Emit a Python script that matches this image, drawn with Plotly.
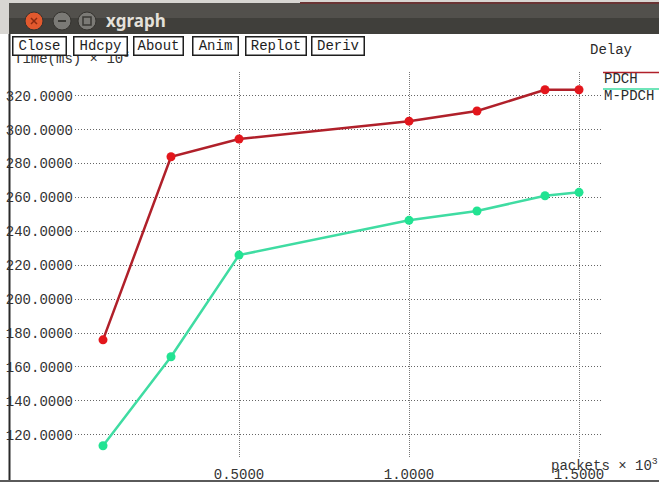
import plotly.graph_objects as go

# ---------------- data ----------------
packets = [0.1, 0.3, 0.5, 1.0, 1.2, 1.4, 1.5]          # x 10^3
pdch = [176.0, 284.0, 294.5, 305.0, 311.0, 323.5, 323.5]   # Time(ms) x 10^3
mpdch = [113.5, 166.0, 226.0, 246.5, 252.0, 261.0, 263.0]
series_names = ["PDCH", "M-PDCH"]
buttons = ["Close", "Hdcpy", "About", "Anim", "Replot", "Deriv"]
graph_title = "Delay"
window_title = "xgraph"
y_label = "Time(ms) × 10<sup>3</sup>"
x_label = "packets × 10<sup>3</sup>"

W, H = 659, 482
def px(x):
    return x / W
def py(y):
    return 1 - y / H

MONO = "Liberation Mono, DejaVu Sans Mono, monospace"
RED_LINE, RED_MK = "#b0202a", "#e3161c"
GRN_LINE, GRN_MK = "#3fdca2", "#22e392"

fig = go.Figure()
fig.add_trace(go.Scatter(x=packets, y=pdch, mode="lines+markers", name=series_names[0],
                         line=dict(color=RED_LINE, width=2.5),
                         marker=dict(color=RED_MK, size=9), cliponaxis=False))
fig.add_trace(go.Scatter(x=packets, y=mpdch, mode="lines+markers", name=series_names[1],
                         line=dict(color=GRN_LINE, width=2.5),
                         marker=dict(color=GRN_MK, size=9), cliponaxis=False))

shapes = []
# window title bar
shapes.append(dict(type="rect", xref="paper", yref="paper", x0=0, x1=1, y0=py(0), y1=py(34),
                   fillcolor="#d8d6d2", line=dict(width=0), layer="below"))
shapes.append(dict(type="rect", xref="paper", yref="paper", x0=px(9), x1=1, y0=py(3), y1=py(18),
                   fillcolor="#52504c", line=dict(width=0), layer="below"))
shapes.append(dict(type="rect", xref="paper", yref="paper", x0=px(9), x1=1, y0=py(18), y1=py(34),
                   fillcolor="#403f3b", line=dict(width=0), layer="below"))
shapes.append(dict(type="rect", xref="paper", yref="paper", x0=px(300), x1=1, y0=py(2), y1=py(4),
                   fillcolor="#6a3434", line=dict(width=0), layer="below"))
# window circle buttons
for cx, col in [(34, "#e2592e"), (62, "#7b7a76"), (87, "#7b7a76")]:
    shapes.append(dict(type="circle", xref="paper", yref="paper",
                       x0=px(cx - 9), x1=px(cx + 9), y0=py(30), y1=py(12),
                       fillcolor=col, line=dict(color="#35332f", width=1)))
shapes.append(dict(type="line", xref="paper", yref="paper", x0=px(58), x1=px(66), y0=py(21), y1=py(21),
                   line=dict(color="#3a3935", width=2)))
shapes.append(dict(type="rect", xref="paper", yref="paper", x0=px(83), x1=px(91), y0=py(25), y1=py(17),
                   line=dict(color="#3a3935", width=1.5)))
shapes.append(dict(type="line", xref="paper", yref="paper", x0=px(31), x1=px(37), y0=py(18), y1=py(24),
                   line=dict(color="#8a2a10", width=1.5)))
shapes.append(dict(type="line", xref="paper", yref="paper", x0=px(31), x1=px(37), y0=py(24), y1=py(18),
                   line=dict(color="#8a2a10", width=1.5)))
# window frame
shapes.append(dict(type="line", xref="paper", yref="paper", x0=px(9.5), x1=px(9.5), y0=py(34), y1=py(482),
                   line=dict(color="#2a2a2a", width=2), layer="above"))
shapes.append(dict(type="rect", xref="paper", yref="paper", x0=0, x1=1, y0=py(480), y1=py(482),
                   fillcolor="#5a5a5a", line=dict(width=0), layer="above"))
# legend lines
shapes.append(dict(type="line", xref="paper", yref="paper", x0=px(603), x1=1, y0=py(72.5), y1=py(72.5),
                   line=dict(color=RED_LINE, width=1.5)))
shapes.append(dict(type="line", xref="paper", yref="paper", x0=px(603), x1=1, y0=py(89), y1=py(89),
                   line=dict(color=GRN_LINE, width=1.5)))

annotations = []
annotations.append(dict(text="<b>" + window_title + "</b>", xref="paper", yref="paper",
                        x=px(104), y=py(21), xanchor="left", yanchor="middle", showarrow=False,
                        font=dict(family="Noto Sans, DejaVu Sans", size=17, color="#e4e1da")))
# y-axis label (partly hidden behind buttons)
annotations.append(dict(text=y_label, xref="paper", yref="paper", x=px(12), y=py(57.5),
                        xanchor="left", yanchor="middle", showarrow=False,
                        font=dict(family=MONO, size=14, color="#333333")))
# buttons
btn_box = [(12, 67), (73, 128), (133, 184), (192, 239), (245, 307), (311, 365)]
for label, (x0, x1) in zip(buttons, btn_box):
    annotations.append(dict(text=label, xref="paper", yref="paper", x=px((x0 + x1) / 2), y=py(46),
                            xanchor="center", yanchor="middle", showarrow=False,
                            width=x1 - x0 - 6, height=14, borderpad=1.5, borderwidth=1.5,
                            bordercolor="#1e1e1e", bgcolor="#ffffff",
                            font=dict(family=MONO, size=14, color="#1e1e1e")))
# graph title / legend text
annotations.append(dict(text=graph_title, xref="paper", yref="paper", x=px(611), y=py(50),
                        xanchor="center", yanchor="middle", showarrow=False,
                        font=dict(family=MONO, size=14, color="#2a2a2a")))
annotations.append(dict(text=series_names[0], xref="paper", yref="paper", x=px(602), y=py(79.5),
                        xanchor="left", yanchor="middle", showarrow=False,
                        font=dict(family=MONO, size=14, color="#2a2a2a")))
annotations.append(dict(text=series_names[1], xref="paper", yref="paper", x=px(602), y=py(96),
                        xanchor="left", yanchor="middle", showarrow=False,
                        font=dict(family=MONO, size=14, color="#2a2a2a")))
annotations.append(dict(text=x_label, xref="paper", yref="paper", x=px(549), y=py(465),
                        xanchor="left", yanchor="middle", showarrow=False,
                        font=dict(family=MONO, size=14, color="#333333")))

fig.update_layout(
    width=W, height=H,
    margin=dict(l=0, r=0, t=0, b=0, autoexpand=False),
    paper_bgcolor="#ffffff", plot_bgcolor="#ffffff",
    showlegend=False,
    shapes=shapes, annotations=annotations,
    xaxis=dict(domain=[px(75), px(603)], range=[0.0176, 1.5706], tick0=0, dtick=0.5,
               tickformat=".4f", showgrid=True, gridcolor="#777777", gridwidth=1,
               griddash="1px,1px", zeroline=False, showline=False, ticks="",
               ticklabelstandoff=6,
               tickfont=dict(family=MONO, size=14, color="#333333")),
    yaxis=dict(domain=[py(458), py(72)], range=[106.3, 334.0], tick0=0, dtick=20,
               tickformat=".4f", showgrid=True, gridcolor="#666666", gridwidth=1,
               griddash="1px,2px", zeroline=False, showline=False, ticks="",
               ticklabelstandoff=1,
               tickfont=dict(family=MONO, size=14, color="#333333")),
)

fig.write_html("out.html", config={"displayModeBar": False},
               post_script="document.body.style.margin='0px';document.body.style.overflow='hidden';")
